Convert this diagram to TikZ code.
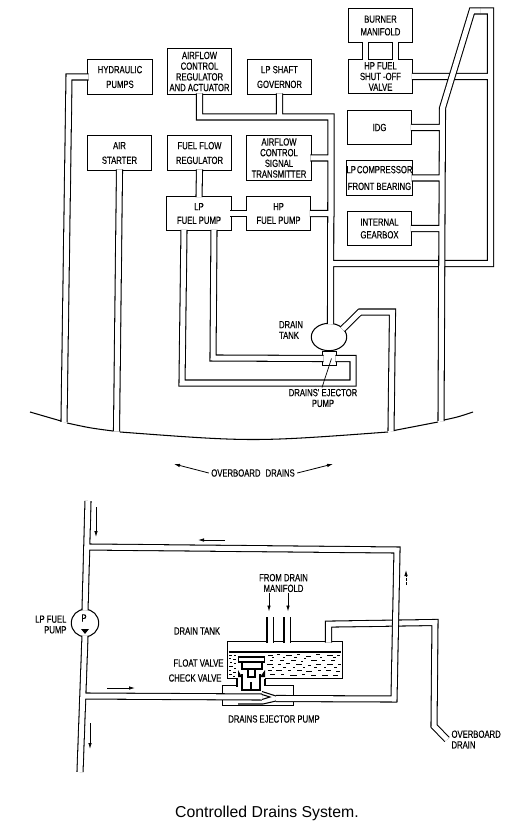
\documentclass[tikz,border=0pt]{standalone}
\usepackage{fontspec}
\setmainfont{Liberation Sans}
\newfontfamily\labelfont[FakeStretch=0.74,FakeBold=0.3]{Liberation Sans}
\newcommand{\labeltext}{\labelfont\fontsize{10.4}{10.7}\selectfont}
\usetikzlibrary{calc, shapes.geometric, arrows.meta}

\begin{document}
\begin{tikzpicture}[
  x=1pt, y=-1pt,
  every path/.style={line width=1.05pt},
  unit/.style={draw, fill=white, align=center, font=\labeltext, inner sep=0pt,
               outer sep=-0.8pt, minimum width=64.4pt, minimum height=34.4pt},
  pipe/.style={draw=black, line width=1.05pt, double=white, double distance=5pt},
  tag/.style={font=\labeltext, align=center, inner sep=0pt},
  flow/.style={-{Latex[length=6pt,width=3.5pt]}, line width=0.8pt},
  hull/.style={line width=1.05pt},
]
\useasboundingbox (0,0) rectangle (506,821);

\node[unit] (hydraulic) at (120,77) {HYDRAULIC\\[4pt]PUMPS};
\node[unit, minimum height=45.4pt] (regulator) at (199.5,71.5) {AIRFLOW\\CONTROL\\REGULATOR\\AND ACTUATOR};
\node[unit] (governor) at (279.5,77) {LP SHAFT\\[4pt]GOVERNOR};
\node[unit] (starter) at (119.5,153) {AIR\\[4pt]STARTER};
\node[unit] (flowreg) at (199.5,153) {FUEL FLOW\\[4pt]REGULATOR};
\node[unit, minimum height=44.4pt] (transmitter) at (279,158) {AIRFLOW\\CONTROL\\SIGNAL\\TRANSMITTER};
\node[unit] (lppump) at (199,213.5) {LP\\[3pt]FUEL PUMP};
\node[unit] (hppump) at (278.5,213.5) {HP\\[3pt]FUEL PUMP};
\node[unit] (manifold) at (380.5,25.5) {BURNER\\[2pt]MANIFOLD};
\node[unit] (valve) at (380.5,76.5) {HP FUEL\\SHUT -OFF\\VALVE};
\node[unit] (idg) at (379.5,127.5) {IDG};
\node[unit] (bearing) at (379.5,178) {LP\hspace{1pt}COMPRESSOR\\[6pt]FRONT BEARING};
\node[unit] (gearbox) at (379.5,228.5) {INTERNAL\\[2pt]GEARBOX};

\node[draw, fill=white, ellipse, inner sep=0pt, outer sep=-0.8pt, minimum width=35.4pt, minimum height=27.4pt] (drain) at (329,337) {};
\node[draw, fill=white, inner sep=0pt, outer sep=-0.8pt, minimum width=13.4pt, minimum height=13.4pt] (ejector) at (329.5,358.5) {};

\coordinate (hydraulicend) at (64,422);
\coordinate (starterend) at (116.5,431.5);
\coordinate (drainend) at (391,431);
\coordinate (ventend) at (441,421);

\draw[pipe] (flowreg.south) -- (lppump.north);
\draw[pipe] (lppump.east) -- (hppump.west);
\draw[pipe] ([xshift=-15]manifold.south) -- ([xshift=-15]valve.north);
\draw[pipe] ([xshift=15]manifold.south) -- ([xshift=15]valve.north);
\draw[pipe] (hydraulic.west) -- (69,77) -- (hydraulicend);
\draw[pipe] (starter.south) -- (starterend);
\draw[pipe] ([xshift=-15]lppump.south) -- (182,383) -- (353,383) -- (353,358.5) -- (ejector.east);
\draw[pipe] ([xshift=15]lppump.south) -- (213,358) -- (ejector.west);
\draw[pipe] (drain.30) -- (360,312) -- (392.5,312) -- (drainend);
\draw[pipe] (regulator.south) |- (331,117) -- ([xshift=1.5]drain.north)
  (governor.south) |- (331,117)
  (transmitter.east) -| (331,117)
  (hppump.east) -| (331,117)
  (331,263.5) -- (490.5,263.5) -- (490.5,11) -- (480,11)
  (valve.east) -- (490.5,76.5);
\draw[pipe] (480,11) -- (472,11) -- (442.5,108) -- (ventend)
  (idg.east) -- (442.5,127.5)
  (bearing.east) -- (442,178)
  (gearbox.east) -- (442,228.5);

\node[tag, align=left] (draintag) at (291,330) {DRAIN\\TANK};
\node[tag] (ejectortag) at (323,398) {DRAINS' EJECTOR\\PUMP};
\draw[line width=0.7pt] ([xshift=2]ejector.center) -- ([xshift=-1,yshift=1]ejectortag.north);

\draw[hull] (30,412) .. controls (45,417) .. (61,421);
\draw[hull] (67,423) .. controls (90,428) .. (113,431);
\draw[hull] (120,432) .. controls (253,442) .. (388,432);
\draw[hull] (394,430.5) .. controls (416,427) .. (438,422);
\draw[hull] (444,420) .. controls (458,417) .. (473,412);

\node[tag] (overboard) at (253,473) {OVERBOARD\hspace{3pt} DRAINS};
\coordinate (overboardl) at (174,464);
\coordinate (overboardr) at (333,464);
\draw[flow] ([xshift=-2]overboard.west) -- (overboardl);
\draw[flow] ([xshift=2]overboard.east) -- (overboardr);

% lower view
\node[draw, fill=white, inner sep=0pt, outer sep=-0.8pt, minimum width=114.4pt, minimum height=36.4pt] (tank) at (285,660) {};
\draw (tank.west |- 0,652) -- (tank.east |- 0,652);
\foreach \dashx/\dashy/\dashl in {
  229/655/3, 234/655/2, 229/658/2, 233/659/3, 230/662/2, 234/663/2, 229/666/4, 234/668/2, 229/670/2, 233/672/3, 229/674/3, 233/676/2,
  268/655/5, 277/654/3, 286/655/6, 297/654/3, 306/656/5, 316/654/4, 327/655/6, 337/655/3,
  272/657/2, 283/657/2, 294/657/3, 304/658/2, 320/657/2, 333/657/3,
  270/660/3, 280/660/4, 291/660/5, 301/661/2, 311/660/6, 322/660/3, 331/660/4,
  267/664/6, 278/664/3, 286/663/4, 296/664/6, 308/665/3, 316/664/5, 327/664/6, 338/664/3,
  272/667/2, 283/667/3, 293/667/2, 303/667/2, 314/667/3, 324/667/2, 334/667/3,
  268/670/4, 276/670/6, 288/670/3, 297/670/5, 306/671/6, 318/670/3, 326/670/5, 336/671/4,
  270/674/5, 281/674/3, 290/675/7, 302/674/3, 311/675/5, 322/675/6, 333/675/5} {
  \draw[line width=0.8pt] (\dashx,\dashy) -- ++(\dashl,0);
}

\node[draw, fill=white, inner sep=0pt, outer sep=-0.8pt, minimum width=70.4pt, minimum height=19.4pt] (ejectorbody) at (258,695.5) {};
\fill[white] (237.5,674) rectangle (264.5,686);
\draw (237,679) -- (237,687);
\draw (265,679) -- (265,685.5);
\draw (242,674) -- (242,691);
\draw (260,674) -- (260,691);
\fill (238,677) -- (238,670) -- (242,677) -- cycle;
\fill (265,677) -- (265,670) -- (260,677) -- cycle;
\draw[line width=1.5pt, fill=white] (238.5,657) rectangle (264.5,662);
\draw[fill=white] (242,662) -- (262,662) -- (262,669) -- (242,669) -- cycle;
\draw (248,669) -- (248,677) -- (255,677) -- (255,669);
\draw (251,682) -- (251,690);
\draw (243,690) -- (259,690);

\coordinate (nozzle) at (262,697);
\coordinate (throat) at (276,698.5);
\coordinate (inlet) at (88,501);
\coordinate (outlet) at (80,772);
\coordinate (overend) at (447,739.5);

\draw[pipe] ([xshift=-15]tank.north) -- ++(0,-26);
\draw[pipe] ([xshift=2]tank.north) -- ++(0,-26);
\draw[pipe] ([xshift=43.5]tank.north) -- ++(0,-18.5) -- (435,622.5) -- (434,726) -- (overend);

\node[draw, fill=white, circle, inner sep=0pt, outer sep=-0.8pt, minimum size=27.4pt] (fuelpump) at (85,623) {};
\node[tag, font=\labeltext] (fuelpumpletter) at (84,618) {P};
\fill ([xshift=-4,yshift=-6]fuelpump.center) -- ([xshift=4,yshift=-6]fuelpump.center) -- ([yshift=2]fuelpump.south) -- cycle;

\draw[pipe] (inlet) -- (fuelpump.north)
  (87,547) -- (397,550) -- (394,699) -- (throat);
\draw[pipe] (fuelpump.south) -- (outlet)
  (83,696) -- (nozzle);
\draw (262,691.5) -- (276,696);
\draw (238,704) -- (263,704) -- (276,701);
\draw (262,694.5) -- (270,697) -- (262,699.5);

\node[tag] (manifoldtag) at (283.5,583) {FROM DRAIN\\MANIFOLD};
\draw[flow] ([xshift=-14.5]manifoldtag.south) -- ++(0,19);
\draw[flow] ([xshift=4.5]manifoldtag.south) -- ++(0,19);

\node[tag] (tanktag) at (197,631) {DRAIN TANK};
\node[tag, anchor=east] (floattag) at (224,663) {FLOAT VALVE};
\node[tag, anchor=east] (checktag) at (222,678) {CHECK VALVE};
\node[tag] (pumptag) at (274,719) {DRAINS EJECTOR PUMP};
\node[tag, align=right, anchor=east] (fuelpumptag) at (67,624.5) {LP FUEL\\PUMP};
\node[tag, align=left, anchor=west] (overendtag) at (451,739.5) {OVERBOARD\\DRAIN};

\coordinate (flowa) at (96,507);
\coordinate (flowb) at (225,540);
\coordinate (flowc) at (107,688);
\coordinate (flowd) at (90,723);
\coordinate (flowe) at (406,585);
\draw[flow] (flowa) -- ++(0,30);
\draw[flow] (flowb) -- ++(-27,0);
\draw[flow] (flowc) -- ++(28,0);
\draw[flow] (flowd) -- ++(0,26);
\draw[flow, dash pattern=on 3pt off 1pt] (flowe) -- ++(0,-15);

\node[font=\fontsize{15.8}{18}\selectfont, inner sep=0pt] (caption) at (267,813) {Controlled Drains System.};
\end{tikzpicture}
\end{document}
